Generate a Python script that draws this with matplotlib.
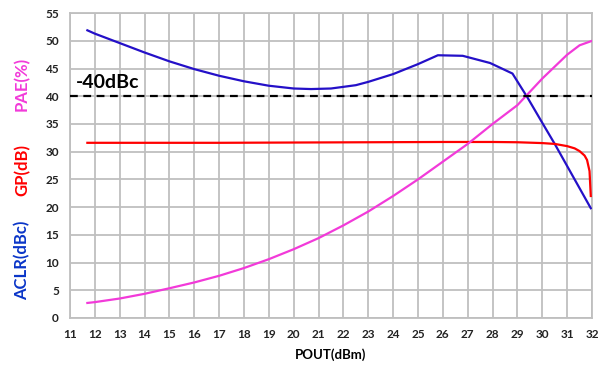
import matplotlib
matplotlib.use("Agg")
import matplotlib.pyplot as plt

# data
pout_aclr = [11.7, 12, 13, 14, 15, 16, 17, 18, 19, 20, 20.7, 21.5, 22.5, 23, 24, 25,
             25.8, 26.8, 27.9, 28.8, 29.4, 30, 30.5, 31, 31.95]
aclr = [51.9, 51.3, 49.6, 47.9, 46.3, 44.9, 43.7, 42.7, 41.9, 41.4, 41.3, 41.4, 42.0,
        42.6, 44.0, 45.8, 47.4, 47.3, 46.0, 44.1, 39.8, 35.2, 31.4, 27.4, 19.8]

pout_gp = [11.7, 14, 17, 20, 23, 26, 28, 29, 30, 30.5, 31, 31.3, 31.5, 31.7, 31.8,
           31.9, 31.95]
gp = [31.6, 31.6, 31.6, 31.65, 31.7, 31.75, 31.75, 31.7, 31.55, 31.4, 31.0, 30.6,
      30.1, 29.3, 28.5, 26.5, 22.0]

pout_pae = [11.7, 12, 13, 14, 15, 16, 17, 18, 19, 20, 21, 22, 23, 24, 25, 26, 27, 28,
            29, 30, 31, 31.5, 32]
pae = [2.7, 2.85, 3.5, 4.35, 5.35, 6.4, 7.6, 9.0, 10.6, 12.4, 14.4, 16.7, 19.2, 22.0,
       25.0, 28.2, 31.4, 35.0, 38.4, 43.2, 47.5, 49.2, 50.0]

limit_level = 40
x_ticks = list(range(11, 33))
y_ticks = list(range(0, 56, 5))

plt.rcParams['font.family'] = ['Lato', 'DejaVu Sans']
plt.rcParams['font.weight'] = 'bold'

fig = plt.figure(figsize=(5.98, 3.65), dpi=100)
ax = fig.add_axes([0.117, 0.129, 0.873, 0.835])

ax.plot(pout_aclr, aclr, color='#2410C8', lw=1.6, zorder=3)
ax.plot(pout_gp, gp, color='#FF0000', lw=1.6, zorder=3)
ax.plot(pout_pae, pae, color='#F23AD9', lw=1.6, zorder=3)
ax.axhline(limit_level, color='black', lw=1.6, dashes=(3.5, 2.5), zorder=4)
ax.text(11.25, 41.0, '-40dBc', fontsize=14, fontweight='bold', color='black',
        va='bottom', ha='left')

ax.set_xlim(11, 32)
ax.set_ylim(0, 55)
ax.set_xticks(x_ticks)
ax.set_yticks(y_ticks)
ax.grid(True, color='#BFBFBF', lw=1.3)
ax.set_axisbelow(True)
ax.tick_params(length=0, labelsize=8.5, pad=8, colors='#222222')
for lbl in ax.get_xticklabels() + ax.get_yticklabels():
    lbl.set_fontweight('bold')
for s in ax.spines.values():
    s.set_color('#BFBFBF')
    s.set_linewidth(1.3)

ax.set_xlabel('POUT(dBm)', fontsize=9.5, fontweight='bold', labelpad=6)

# coloured y-axis label, three parts
fig.text(0.037, 1 - 260 / 365, 'ACLR(dBc)', rotation=90, color='#0A35C8',
         fontsize=12, fontweight='bold', ha='center', va='center')
fig.text(0.037, 1 - 170 / 365, 'GP(dB)', rotation=90, color='#FF0000',
         fontsize=12, fontweight='bold', ha='center', va='center')
fig.text(0.037, 1 - 84 / 365, 'PAE(%)', rotation=90, color='#F23AD9',
         fontsize=12, fontweight='bold', ha='center', va='center')

fig.savefig('out.png', dpi=100)
